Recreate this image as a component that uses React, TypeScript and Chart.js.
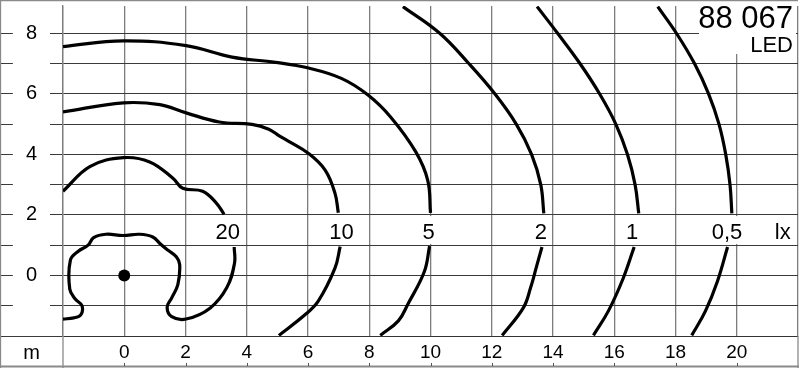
import React, { useEffect, useRef } from 'react';
import { Chart, registerables } from 'chart.js';

Chart.register(...registerables);

const FONT = "'Liberation Sans', Arial, Helvetica, sans-serif";

// axis ticks (metres)
const xTickLabels = [0, 2, 4, 6, 8, 10, 12, 14, 16, 18, 20];
const yTickLabels = [0, 2, 4, 6, 8];

// isolux curves [x m, y m]; each curve is split where its label sits
const lx20Upper = [[-2.0, 2.78], [-1.11, 3.6], [-0.03, 3.89], [0.83, 3.75], [1.59, 3.21], [1.91, 2.88], [2.56, 2.78], [3.0, 2.4], [3.26, 2.02]];
const lx20Lower = [[3.59, 0.94], [3.6, 0.4], [3.35, -0.4], [2.8, -1.08], [2.02, -1.44], [1.55, -1.36], [1.4, -1.05], [1.55, -0.74], [1.75, -0.3], [1.81, 0.36], [1.7, 0.62], [1.43, 0.83], [1.2, 1.02], [0.93, 1.27], [0.5, 1.36], [-0.03, 1.32], [-0.6, 1.36], [-1.0, 1.25], [-1.18, 1.0], [-1.5, 0.8], [-1.76, 0.5], [-1.78, -0.45], [-1.6, -0.78], [-1.38, -1.0], [-1.42, -1.3], [-1.65, -1.4], [-2.0, -1.44]];
const lx10Upper = [[-2.0, 5.4], [-0.03, 5.7], [1.16, 5.64], [2.02, 5.37], [3.1, 5.07], [4.17, 4.99], [4.72, 4.83], [5.06, 4.61], [5.37, 4.43], [6.03, 4.02], [6.56, 3.48], [6.88, 2.72], [6.99, 2.07]];
const lx10Lower = [[7.05, 0.95], [6.88, 0.24], [6.34, -0.84], [5.9, -1.3], [5.05, -1.98]];
const lx5Upper = [[-2.0, 7.56], [-0.03, 7.75], [2.02, 7.59], [3.52, 7.21], [4.94, 7.04], [6.02, 6.85], [7.09, 6.51], [7.96, 5.96], [8.71, 5.22], [9.52, 4.08], [9.91, 3.14], [10.0, 2.07]];
const lx5Lower = [[9.97, 0.97], [9.8, 0.13], [9.26, -0.95], [8.95, -1.5], [8.36, -1.98]];
const lx2Upper = [[9.1, 8.88], [10.3, 8.0], [11.25, 7.0], [12.1, 6.0], [12.8, 5.0], [13.3, 4.0], [13.6, 3.0], [13.7, 2.05]];
const lx2Lower = [[13.64, 0.94], [13.45, 0.25], [13.27, -0.4], [13.03, -1.07], [12.34, -1.98]];
const lx1Upper = [[13.48, 8.88], [14.15, 8.0], [14.88, 7.0], [15.52, 6.0], [16.05, 5.0], [16.43, 4.0], [16.68, 3.0], [16.8, 2.05]];
const lx1Lower = [[16.65, 0.94], [16.29, -0.1], [15.81, -1.17], [15.32, -1.98]];
const lx05Upper = [[17.42, 8.88], [18.03, 8.0], [18.62, 7.0], [19.08, 6.0], [19.42, 5.0], [19.64, 4.0], [19.78, 3.0], [19.84, 2.05]];
const lx05Lower = [[19.7, 0.94], [19.37, -0.19], [18.98, -1.17], [18.53, -1.98]];

const lampPoint = [[0, 0]];

// curve labels (value text and anchor in metres)
const contourLabels = ['20', '10', '5', '2', '1', '0,5', 'lx'];
const contourLabelX = [3.38, 7.09, 9.94, 13.6, 16.58, 19.68, 21.5];
const contourLabelY = 1.45;

const titleCode = '88 067';
const titleSub = 'LED';
const axisUnit = 'm';

const toPts = (arr: number[][]) => arr.map(([x, y]) => ({ x, y }));
const isIn = (list: number[], v: number) => list.some((t) => Math.abs(t - v) < 1e-6);

const curveSegments = [lx20Upper, lx20Lower, lx10Upper, lx10Lower, lx5Upper, lx5Lower, lx2Upper, lx2Lower, lx1Upper, lx1Lower, lx05Upper, lx05Lower];

const decorPlugin = {
  id: 'decor',
  beforeDraw(chart: any) {
    const { ctx } = chart;
    ctx.save();
    ctx.fillStyle = '#fff';
    ctx.fillRect(0, 0, chart.width, chart.height);
    ctx.restore();
  },
  afterDatasetsDraw(chart: any) {
    const { ctx, scales } = chart;
    const xs = scales.x;
    const ys = scales.y;
    ctx.save();
    ctx.font = `22px ${FONT}`;
    ctx.textAlign = 'center';
    ctx.textBaseline = 'middle';
    const top = ys.getPixelForValue(1.96);
    const bot = ys.getPixelForValue(1.04);
    contourLabels.forEach((t, i) => {
      const px = xs.getPixelForValue(contourLabelX[i]);
      const py = ys.getPixelForValue(contourLabelY);
      const w = ctx.measureText(t).width;
      ctx.fillStyle = '#fff';
      ctx.fillRect(px - w / 2 - 2, top, w + 4, bot - top);
      ctx.fillStyle = '#000';
      ctx.fillText(t, px, py + 1);
    });
    ctx.restore();
  },
  afterDraw(chart: any) {
    const { ctx, chartArea, scales } = chart;
    const xs = scales.x;
    const H = chart.height;
    ctx.save();
    ctx.strokeStyle = '#8a8a8a';
    ctx.lineWidth = 1.3;
    ctx.beginPath();
    ctx.moveTo(0, 0.5);
    ctx.lineTo(chartArea.right, 0.5);
    ctx.moveTo(0.5, 0);
    ctx.lineTo(0.5, H);
    ctx.moveTo(chartArea.left, chartArea.bottom);
    ctx.lineTo(chartArea.left, H);
    ctx.moveTo(chartArea.right, chartArea.bottom);
    ctx.lineTo(chartArea.right, H);
    ctx.stroke();
    ctx.lineWidth = 2.2;
    ctx.beginPath();
    ctx.moveTo(0, H - 1.5);
    ctx.lineTo(chartArea.right + 1, H - 1.5);
    ctx.stroke();
    ctx.lineWidth = 1;
    ctx.strokeStyle = '#555';
    ctx.beginPath();
    xTickLabels.forEach((v) => {
      const px = Math.round(xs.getPixelForValue(v)) + 0.5;
      ctx.moveTo(px, H - 2);
      ctx.lineTo(px, H - 5);
    });
    ctx.stroke();
    ctx.fillStyle = '#000';
    ctx.font = `20px ${FONT}`;
    ctx.textAlign = 'center';
    ctx.textBaseline = 'middle';
    ctx.fillText(axisUnit, chartArea.left / 2, (chartArea.bottom + H) / 2 + 1);
    ctx.fillStyle = '#fff';
    ctx.fillRect(chartArea.right - 99, 4, 97, 50);
    ctx.fillStyle = '#000';
    ctx.textAlign = 'right';
    ctx.textBaseline = 'alphabetic';
    ctx.font = `31px ${FONT}`;
    ctx.fillText(titleCode, chartArea.right - 5, 28);
    ctx.font = `22px ${FONT}`;
    ctx.fillText(titleSub, chartArea.right - 5, 52);
    ctx.restore();
  },
};

export default function App() {
  const ref = useRef<HTMLCanvasElement | null>(null);
  useEffect(() => {
    if (!ref.current) return;
    const datasets: any[] = curveSegments.map((seg) => ({
      data: toPts(seg),
      showLine: true,
      borderColor: '#000',
      borderWidth: 3.2,
      pointRadius: 0,
      tension: 0.4,
      fill: false,
      borderCapStyle: 'butt',
    }));
    datasets.push({
      data: toPts(lampPoint),
      showLine: false,
      pointRadius: 6,
      pointBackgroundColor: '#000',
      pointBorderWidth: 0,
    });
    const chart = new Chart(ref.current, {
      type: 'scatter',
      data: { datasets },
      options: {
        animation: false,
        responsive: false,
        devicePixelRatio: 1,
        layout: { padding: { left: 0, right: 3, top: 0, bottom: 0 } },
        plugins: { legend: { display: false }, tooltip: { enabled: false } },
        scales: {
          x: {
            type: 'linear',
            min: -2,
            max: 22,
            ticks: {
              stepSize: 2,
              autoSkip: false,
              maxRotation: 0,
              padding: 5,
              color: '#000',
              font: { family: FONT, size: 19 },
              callback: (v: any) => (isIn(xTickLabels, Number(v)) ? String(v) : ''),
            },
            grid: { color: '#7d7d7d', lineWidth: 1.3, drawTicks: false },
            border: { display: true, color: '#333', width: 1 },
            afterFit: (s: any) => {
              s.height = 32;
            },
          },
          y: {
            type: 'linear',
            min: -2,
            max: 8.9,
            ticks: {
              stepSize: 1,
              includeBounds: false,
              autoSkip: false,
              crossAlign: 'center',
              padding: -37,
              font: { family: FONT, size: 20 },
              color: (c: any) => (isIn(yTickLabels, c.tick.value) ? '#000' : 'rgba(0,0,0,0)'),
              showLabelBackdrop: (c: any) => c.tick.value > -1.5,
              backdropColor: '#fff',
              backdropPadding: { left: 13, right: 13, top: 3, bottom: 3 },
              callback: (v: any) => (isIn(yTickLabels, Number(v)) ? String(v) : '0'),
            },
            grid: { color: '#3a3a3a', lineWidth: 1, tickLength: 63 },
            border: { display: true, color: '#7d7d7d', width: 1.3 },
            afterFit: (s: any) => {
              s.width = 63;
            },
          },
        },
      } as any,
      plugins: [decorPlugin],
    });
    return () => chart.destroy();
  }, []);
  return (
    <div style={{ position: 'absolute', left: 0, top: 0, width: 804, height: 368 }}>
      <canvas ref={ref} width={804} height={368} />
    </div>
  );
}
